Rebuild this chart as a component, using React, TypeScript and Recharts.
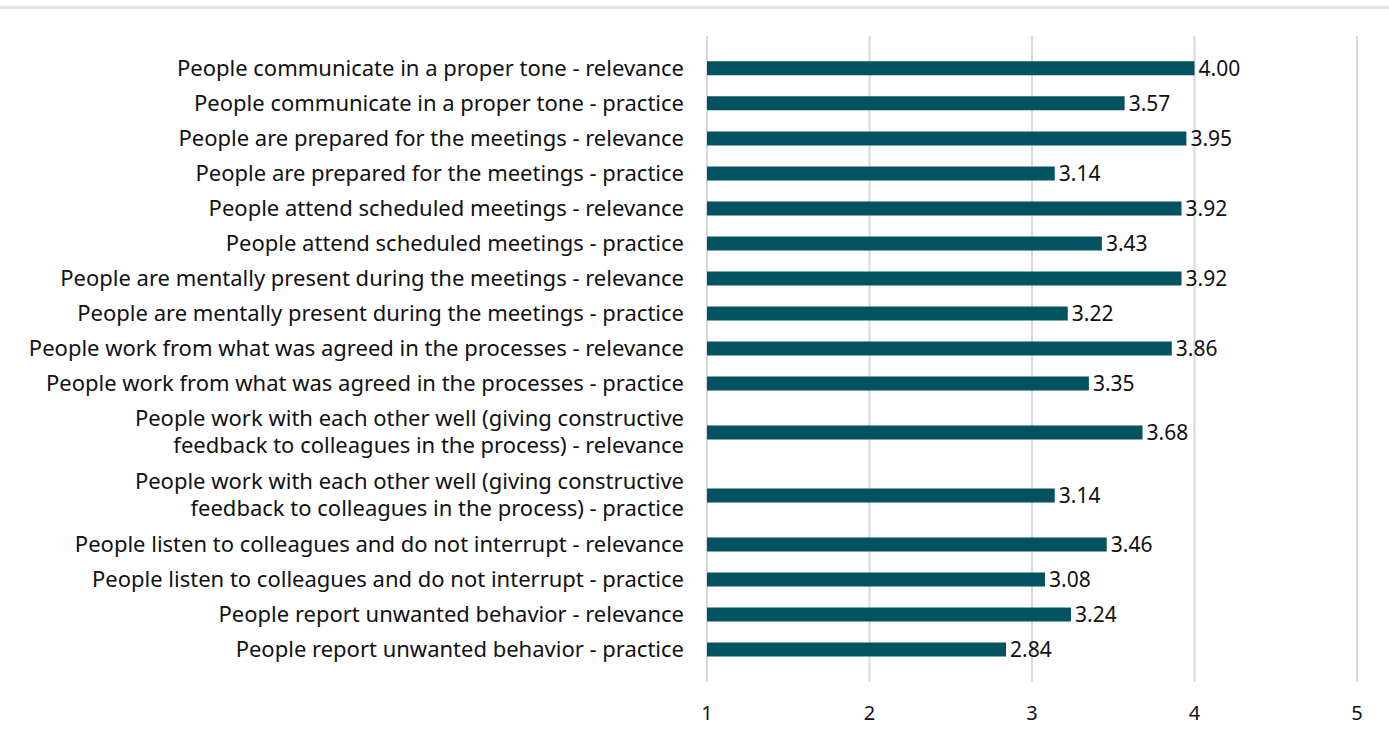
import React from 'react';
import { BarChart, Bar, XAxis, YAxis, CartesianGrid, LabelList } from 'recharts';

const categories = [
  'People communicate in a proper tone - relevance',
  'People communicate in a proper tone - practice',
  'People are prepared for the meetings - relevance',
  'People are prepared for the meetings - practice',
  'People attend scheduled meetings - relevance',
  'People attend scheduled meetings - practice',
  'People are mentally present during the meetings - relevance',
  'People are mentally present during the meetings - practice',
  'People work from what was agreed in the processes - relevance',
  'People work from what was agreed in the processes - practice',
  'People work with each other well (giving constructive\nfeedback to colleagues in the process) - relevance',
  'People work with each other well (giving constructive\nfeedback to colleagues in the process) - practice',
  'People listen to colleagues and do not interrupt - relevance',
  'People listen to colleagues and do not interrupt - practice',
  'People report unwanted behavior - relevance',
  'People report unwanted behavior - practice',
];

const scores = [4.0, 3.57, 3.95, 3.14, 3.92, 3.43, 3.92, 3.22, 3.86, 3.35, 3.68, 3.14, 3.46, 3.08, 3.24, 2.84];

const xTicks = [1, 2, 3, 4, 5];

// rows with two-line labels get more room, like the original layout
let acc = 0;
const rows = categories.map((name, i) => {
  const lines = name.split('\n');
  const span = 1 + (lines.length - 1) * 0.8;
  const pos = acc + span / 2;
  acc += span;
  return { name, lines, pos, value: scores[i] };
});
const total = acc;

const FONT = '"Noto Sans", sans-serif';
const BAR = '#02535f';

const CategoryTick = (props: any) => {
  const { x, y, payload } = props;
  const row = rows.find(r => Math.abs(r.pos - payload.value) < 1e-6);
  if (!row) return null;
  const lh = 27;
  const start = -((row.lines.length - 1) / 2) * lh;
  return (
    <text x={x} y={y} textAnchor="end" fill="#111" fontSize={22} fontFamily={FONT}>
      {row.lines.map((l, i) => (
        <tspan key={i} x={x} y={y + start + i * lh} dy="0.36em">{l}</tspan>
      ))}
    </text>
  );
};

const App: React.FC = () => {
  return (
    <div style={{ position: 'relative', width: 1389, height: 745, background: '#fff' }}>
      <style>{'body{margin:0}'}</style>
      <div style={{ position: 'absolute', left: 0, top: 6, width: 1389, height: 3, background: '#e3e3e3' }} />
      <BarChart
        width={1389}
        height={745}
        data={rows}
        layout="vertical"
        margin={{ top: 36, right: 32, bottom: 0, left: 0 }}
      >
        <CartesianGrid horizontal={false} stroke="#d9d9d9" strokeWidth={2} />
        <XAxis
          type="number"
          dataKey="value"
          domain={[1, 5]}
          ticks={xTicks}
          axisLine={false}
          tickLine={false}
          tickMargin={18}
          height={63}
          tick={{ fontSize: 20, fill: '#111', fontFamily: FONT }}
        />
        <YAxis
          type="number"
          dataKey="pos"
          domain={[-0.41, total + 0.44]}
          ticks={rows.map(r => r.pos)}
          interval={0}
          width={707}
          axisLine={false}
          tickLine={false}
          tickSize={0}
          tickMargin={23}
          tick={<CategoryTick />}
        />
        <Bar dataKey="value" fill={BAR} barSize={14} isAnimationActive={false}>
          <LabelList
            dataKey="value"
            position="right"
            offset={4}
            formatter={(v: any) => Number(v).toFixed(2)}
            style={{ fontSize: 21, fill: '#111', fontFamily: FONT }}
          />
        </Bar>
      </BarChart>
    </div>
  );
};

export default App;
